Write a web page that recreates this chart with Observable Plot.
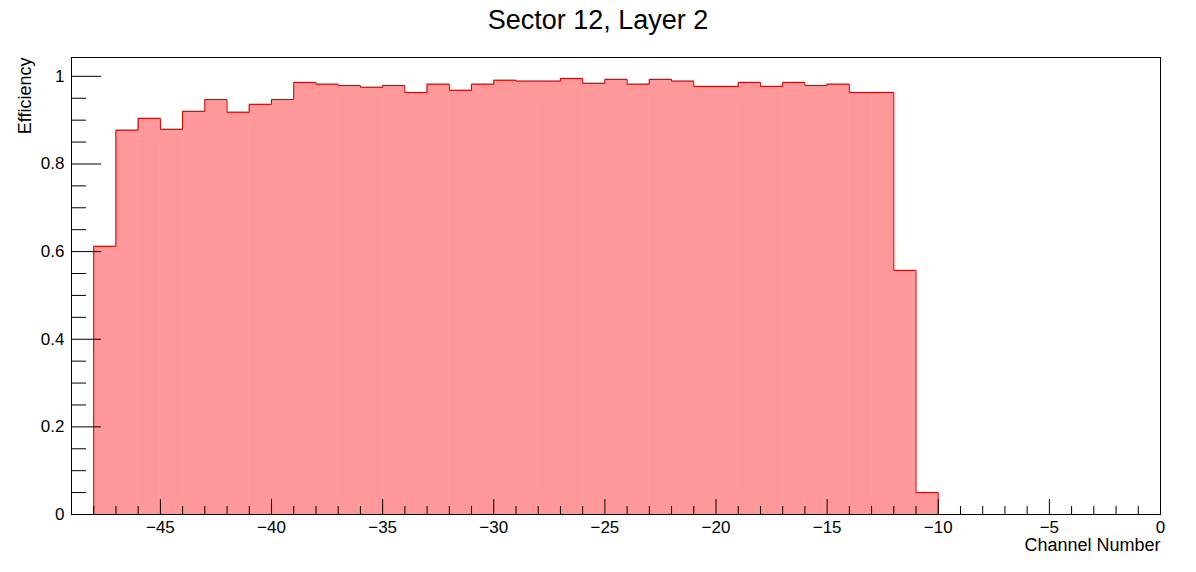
<!doctype html>
<html><head><meta charset="utf-8">
<style>
body{margin:0;background:#fff;font-family:"Liberation Sans",Arial,sans-serif;}
#title{height:40px;text-align:center;font-size:27px;line-height:40px;padding-top:0px;}
</style></head>
<body>
<div id="title">Sector 12, Layer 2</div>
<div id="chart"></div>
<script src="https://cdn.jsdelivr.net/npm/d3@7"></script>
<script src="https://cdn.jsdelivr.net/npm/@observablehq/plot@0.6"></script>
<script>
const binStart = -48;
const efficiency = [0.612, 0.877, 0.904, 0.879, 0.920, 0.947, 0.918, 0.936, 0.947, 0.986,
  0.982, 0.979, 0.975, 0.979, 0.963, 0.982, 0.968, 0.982, 0.991, 0.989,
  0.989, 0.995, 0.984, 0.993, 0.982, 0.993, 0.989, 0.977, 0.977, 0.986,
  0.977, 0.986, 0.979, 0.982, 0.963, 0.963, 0.557, 0.05];
const xTicks = [-45, -40, -35, -30, -25, -20, -15, -10, -5, 0];
const yTicks = [0, 0.2, 0.4, 0.6, 0.8, 1];

const bins = efficiency.map((v, i) => ({x1: binStart + i, x2: binStart + i + 1, v}));
const outline = [{x: binStart, v: 0}, ...bins.map(b => ({x: b.x1, v: b.v})),
  {x: bins[bins.length - 1].x2, v: bins[bins.length - 1].v}, {x: bins[bins.length - 1].x2, v: 0}];

const xMinor = d3.range(-49, 1, 1);
const yMinor = d3.range(0, 1.04, 0.05);
const pxY = 1 / 438, pxX = 1 / 22.23;

const plot = Plot.plot({
  width: 1196, height: 532,
  marginTop: 17, marginBottom: 58, marginLeft: 71, marginRight: 36,
  style: {fontFamily: "Liberation Sans, Arial, sans-serif", fontSize: "17px", color: "#000"},
  x: {domain: [-49, 0]},
  y: {domain: [0, 1.043]},
  marks: [
    Plot.rectY(bins, {x1: "x1", x2: "x2", y: "v", fill: "#ff9999", stroke: "#ff9999", strokeWidth: 0.6}),
    Plot.line(outline, {x: "x", y: "v", curve: "step-after", stroke: "#cc0000", strokeWidth: 1}),
    Plot.ruleX(xMinor, {y1: 0, y2: d => (xTicks.includes(d) ? 15 : 8) * pxY, stroke: "#000"}),
    Plot.ruleY(yMinor, {x1: -49, x2: d => -49 + (Math.abs(d * 5 - Math.round(d * 5)) < 1e-6 ? 30 : 15) * pxX, stroke: "#000"}),
    Plot.axisX({ticks: xTicks, tickSize: 0, tickPadding: 6, label: null, fontSize: 17, tickFormat: d => String(d).replace("-", "\u2212")}),
    Plot.axisY({ticks: yTicks, tickSize: 0, tickPadding: 7, label: null, fontSize: 17, tickFormat: d => String(d)}),
    Plot.frame({stroke: "#000"}),
    Plot.text(["Channel Number"], {frameAnchor: "bottom-right", textAnchor: "end", dy: 36, fontSize: 18}),
    Plot.text(["Efficiency"], {frameAnchor: "top-left", textAnchor: "end", rotate: -90, dx: -53, fontSize: 18})
  ]
});
document.querySelector("#chart").append(plot);
</script>
</body></html>
